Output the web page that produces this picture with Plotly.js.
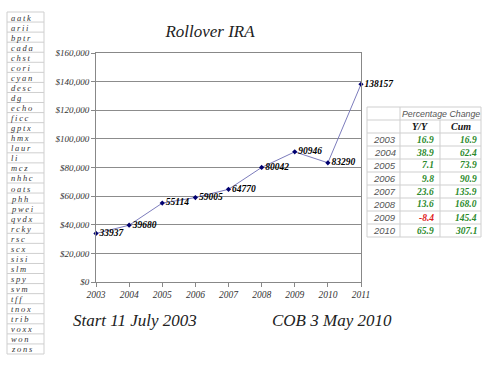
<!DOCTYPE html>
<html><head><meta charset="utf-8">
<script src="https://cdn.plot.ly/plotly-3.0.1.min.js"></script>
<style>html,body{margin:0;padding:0;background:#fff}#chart{width:490px;height:367px}</style>
</head><body><div id="chart"></div>
<script>
const years = [2003, 2004, 2005, 2006, 2007, 2008, 2009, 2010, 2011];
const values = [33937, 39680, 55114, 59005, 64770, 80042, 90946, 83290, 138157];
const tableYears = ['2003', '2004', '2005', '2006', '2007', '2008', '2009', '2010'];
const yoy = [16.9, 38.9, 7.1, 9.8, 23.6, 13.6, -8.4, 65.9];
const cum = [16.9, 62.4, 73.9, 90.9, 135.9, 168.0, 145.4, 307.1];
const tickers = ['aatk','arii','bptr','cada','chst','cori','cyan','desc','dg','echo','ficc','gptx','hmx','laur','li','mcz','nhhc','oats','phh','pwei','qvdx','rcky','rsc','scx','sisi','slm','spy','svm','tff','tnox','trib','voxx','won','zons'];
const titleText = 'Rollover IRA';
const startText = 'Start 11 July 2003';
const cobText = 'COB 3 May 2010';
const tableTitle = 'Percentage Change';
const tableHeads = ['Y/Y', 'Cum'];

const W = 490, H = 367;
const px = v => v / W;
const py = v => 1 - v / H;
const serif = 'Liberation Serif, Times New Roman, serif';
const sans = 'Liberation Sans, Arial, sans-serif';
const green = '#2b8a2b', red = '#e02020';
const gridGray = '#cfcfcf';

const line = {
  type: 'scatter', mode: 'lines+markers+text',
  x: years, y: values,
  text: values.map(v => String(v)),
  textposition: 'middle right',
  textfont: {family: serif, size: 9.5, color: '#000', weight: 'bold', style: 'italic'},
  line: {color: '#7c7cbc', width: 1},
  marker: {symbol: 'diamond', size: 4, color: '#000070'},
  cliponaxis: false,
  hoverinfo: 'skip', showlegend: false
};

const shapes = [];
const annotations = [];
function hline(x0, x1, y) {
  shapes.push({type: 'line', xref: 'paper', yref: 'paper', x0: px(x0), x1: px(x1), y0: py(y), y1: py(y),
               line: {color: gridGray, width: 1}});
}
function vline(x, y0, y1) {
  shapes.push({type: 'line', xref: 'paper', yref: 'paper', x0: px(x), x1: px(x), y0: py(y0), y1: py(y1),
               line: {color: gridGray, width: 1}});
}
function label(text, x, y, anchor, font) {
  annotations.push({text: text, xref: 'paper', yref: 'paper', x: px(x), y: py(y), xanchor: anchor,
                    yanchor: 'middle', showarrow: false, font: font});
}

// ticker list table
const L0 = 7, L1 = 44, LT = 12, LB = 354;
const lRow = (LB - LT) / tickers.length;
vline(L0, LT, LB); vline(L1, LT, LB);
for (let i = 0; i <= tickers.length; i++) hline(L0, L1, LT + i * lRow);
tickers.forEach((t, i) => label(t.split('').join('\u2009'), L0 + 2, LT + (i + 0.5) * lRow + 0.5, 'left',
  {family: serif, size: 8.5, color: '#333', style: 'italic'}));

// percentage table
const T0 = 367, T1 = 481, C1 = 400, C2 = 440, TT = 107, TB = 237;
const nRows = tableYears.length + 2;
const tRow = (TB - TT) / nRows;
for (let i = 0; i <= nRows; i++) hline(T0, T1, TT + i * tRow);
vline(T0, TT, TB); vline(T1, TT, TB); vline(C1, TT, TB); vline(C2, TT + tRow, TB);
label(tableTitle, (C1 + T1) / 2, TT + 0.5 * tRow, 'center', {family: sans, size: 8.8, color: '#555', style: 'italic'});
const headFont = {family: serif, size: 10, color: '#111', style: 'italic', weight: 'bold'};
label(tableHeads[0], (C1 + C2) / 2, TT + 1.5 * tRow, 'center', headFont);
label(tableHeads[1], (C2 + T1) / 2, TT + 1.5 * tRow, 'center', headFont);
tableYears.forEach((yr, i) => {
  const yc = TT + (i + 2.5) * tRow;
  label(yr, C1 - 2, yc, 'right', {family: sans, size: 9.5, color: '#555', style: 'italic'});
  label(yoy[i].toFixed(1), C2 - 4, yc, 'right',
        {family: serif, size: 9.5, color: yoy[i] < 0 ? red : green, style: 'italic', weight: 'bold'});
  label(cum[i].toFixed(1), T1 - 2, yc, 'right',
        {family: serif, size: 9.5, color: cum[i] < 0 ? red : green, style: 'italic', weight: 'bold'});
});

const big = {family: serif, size: 17, color: '#222', style: 'italic'};
label(startText, 71, 320, 'left', big);
label(cobText, 270, 320, 'left', big);

const layout = {
  width: W, height: H,
  margin: {l: 0, r: 0, t: 0, b: 0},
  paper_bgcolor: '#fff', plot_bgcolor: '#fff',
  title: {text: titleText, x: px(210), y: py(31), xanchor: 'center', yanchor: 'middle',
          font: big},
  xaxis: {
    domain: [px(96), px(361)], range: [2003, 2011], tickvals: years,
    ticks: 'outside', ticklen: 4, tickcolor: '#888', showline: true, linecolor: '#888',
    mirror: true, showgrid: false, zeroline: false, fixedrange: true,
    tickfont: {family: serif, size: 9.5, color: '#333', style: 'italic'}
  },
  yaxis: {
    domain: [py(282), py(53)], range: [0, 160000], dtick: 20000, tickformat: '$,.0f',
    ticks: 'outside', ticklen: 4, tickcolor: '#888', showline: true, linecolor: '#888',
    mirror: true, showgrid: true, gridcolor: '#8c8c8c', zeroline: false, fixedrange: true,
    tickfont: {family: serif, size: 9, color: '#333', style: 'italic'}
  },
  shapes: shapes,
  annotations: annotations,
  showlegend: false
};

Plotly.newPlot('chart', [line], layout, {displayModeBar: false, staticPlot: true});
</script>
</body></html>
